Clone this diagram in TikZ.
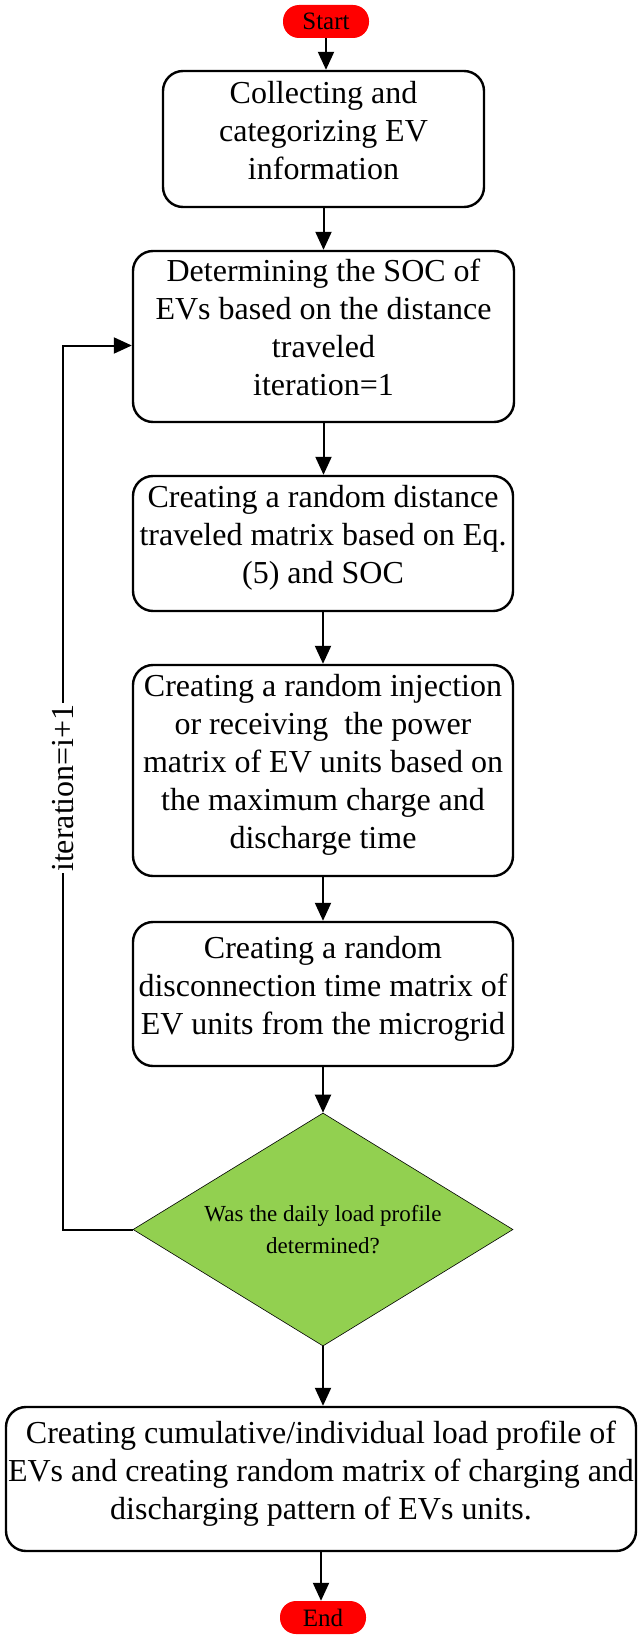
\documentclass[tikz,border=0pt]{standalone}
\usepackage{fontspec}
\setmainfont{Liberation Serif}
\usetikzlibrary{arrows.meta, shapes.geometric, positioning}
\definecolor{StopRed}{RGB}{255, 0, 0}
\definecolor{DecisionGreen}{RGB}{146, 208, 80}

\begin{document}
\begin{tikzpicture}[x=1pt, y=-1pt, >={Triangle[length=18pt, width=16pt]},
    stepbox/.style={draw, line width=2.4pt, rounded corners=20pt, align=center, inner sep=2pt, text depth=18pt, font=\fontsize{32}{38}\selectfont},
    term/.style={fill=StopRed, rounded corners=16pt, minimum width=86pt, minimum height=33pt, inner sep=0pt, font=\fontsize{25}{30}\selectfont},
    decision/.style={diamond, aspect=2, draw, line width=0.6pt, fill=DecisionGreen, minimum width=380pt, minimum height=233pt, inner sep=0pt, align=center, font=\fontsize{23}{32}\selectfont},
    looplabel/.style={rotate=90, fill=white, inner sep=1pt, font=\fontsize{32}{38}\selectfont},
    flow/.style={->, line width=2pt}]
    \useasboundingbox (0,0) rectangle (638,1635);
    \node[term] (start) at (326,21.5) {Start};
    \node[stepbox, minimum width=321pt, minimum height=136pt] (collect) at (323.5,139) {Collecting and\\categorizing EV\\information};
    \node[stepbox, minimum width=381pt, minimum height=171pt] (soc) at (323.5,336.5) {Determining the SOC of\\EVs based on the distance\\traveled\\ iteration=1};
    \node[stepbox, minimum width=380pt, minimum height=135pt] (distance) at (323,543.5) {Creating a random distance\\traveled matrix based on Eq.\\(5) and SOC};
    \node[stepbox, minimum width=380pt, minimum height=211pt] (inject) at (323,770.5) {Creating a random injection\\or receiving\ \ the power\\matrix of EV units based on\\the maximum charge and\\discharge time};
    \node[stepbox, minimum width=380pt, minimum height=144pt] (disconnect) at (323,994) {Creating a random\\disconnection time matrix of\\EV units from the microgrid};
    \node[decision] (daily) at (323,1229.5) {Was the daily load profile\\determined?};
    \node[stepbox, minimum width=630pt, minimum height=144pt] (profile) at (321,1479) {Creating cumulative/individual load profile of\\EVs and creating random matrix of charging and\\discharging pattern of EVs units.};
    \node[term] (stop) at (323,1617.5) {End};
    % main flow
    \draw[flow] (start.south) -- (start.south |- collect.north);
    \draw[flow] (collect.south) -- (collect.south |- soc.north);
    \draw[flow] (soc.south) -- (soc.south |- distance.north);
    \draw[flow] (distance.south) -- (distance.south |- inject.north);
    \draw[flow] (inject.south) -- (inject.south |- disconnect.north);
    \draw[flow] (disconnect.south) -- (disconnect.south |- daily.north);
    \draw[flow] (daily.south) -- (daily.south |- profile.north);
    \draw[flow] (profile.south) -- (profile.south |- stop.north);
    % loop back
    \coordinate (loopturn) at (63,788);
    \draw[flow] (daily.west) -| (loopturn) node[looplabel] {iteration=i+1} |- ([yshift=-9pt]soc.west);
\end{tikzpicture}
\end{document}
